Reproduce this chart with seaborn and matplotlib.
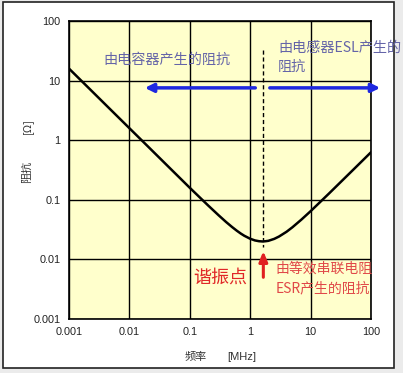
import numpy as np
import pandas as pd
import matplotlib
matplotlib.use("Agg")
import matplotlib.pyplot as plt
from matplotlib.patches import Rectangle
import seaborn as sns

# impedance curve (frequency in MHz, impedance in ohm)
freq = [0.001, 0.002, 0.005, 0.01, 0.02, 0.05, 0.1, 0.15, 0.2, 0.3, 0.4, 0.5,
        0.6, 0.7, 0.8, 1.0, 1.2, 1.4, 1.6, 1.8, 2.0, 2.5, 3.0, 4.0, 5.0, 7.0,
        10, 20, 50, 100]
impedance = [15.9, 7.96, 3.18, 1.59, 0.796, 0.318, 0.159, 0.107, 0.0808, 0.055,
             0.0423, 0.035, 0.0303, 0.0271, 0.0249, 0.0222, 0.0208, 0.0202, 0.0200,
             0.0202, 0.0205, 0.0221, 0.0242, 0.0291, 0.0346, 0.0463, 0.0644,
             0.1265, 0.3145, 0.628]

x_ticks = [0.001, 0.01, 0.1, 1, 10, 100]
x_tick_labels = ["0.001", "0.01", "0.1", "1", "10", "100"]
y_ticks = [0.001, 0.01, 0.1, 1, 10, 100]
y_tick_labels = ["0.001", "0.01", "0.1", "1", "10", "100"]

f_res = 1.65          # resonance marker position
cap_arrow = (1.35, 0.0162)
ind_arrow = (1.9, 158)
arrow_level = 7.55

df = pd.DataFrame({"freq": freq, "impedance": impedance})

sns.set_style("white")
plt.rcParams["font.family"] = ["Noto Sans CJK SC", "DejaVu Sans"]

fig = plt.figure(figsize=(4.03, 3.73), dpi=100, facecolor="#ebebeb")
fig.patches.append(Rectangle((3 / 403, 1 - 368 / 373), 391 / 403, 366 / 373,
                             transform=fig.transFigure, facecolor="white",
                             edgecolor="#222222", lw=1.2, zorder=-10))
ax = fig.add_axes([69 / 403, 1 - 319 / 373, 302 / 403, 298 / 373])
ax.set_facecolor("#ffffcc")

sns.lineplot(data=df, x="freq", y="impedance", ax=ax, color="black", lw=1.8, zorder=3)
ax.set_xscale("log")
ax.set_yscale("log")
ax.set_xlim(0.001, 100)
ax.set_ylim(0.001, 100)
ax.set_xticks(x_ticks)
ax.set_xticklabels(x_tick_labels, family="Liberation Sans", fontsize=7.8, color="#222222")
ax.set_yticks(y_ticks)
ax.set_yticklabels(y_tick_labels, family="Liberation Sans", fontsize=7.8, color="#222222")
ax.minorticks_off()
ax.tick_params(length=0, pad=6)
ax.grid(True, color="black", lw=1)
for s in ax.spines.values():
    s.set_color("black")
    s.set_linewidth(1.2)
ax.set_xlabel("")
ax.set_ylabel("")

# resonance dashed line
ax.plot([f_res, f_res], [33, 0.016], color="black", lw=1, ls=(0, (3, 2)), zorder=2)

# blue arrows
ax.annotate("", xy=(cap_arrow[1], arrow_level), xytext=(cap_arrow[0], arrow_level),
            arrowprops=dict(arrowstyle="-|>,head_length=0.5,head_width=0.25",
                            color="#1e28e0", lw=2.5), annotation_clip=False)
ax.annotate("", xy=(ind_arrow[1], arrow_level), xytext=(ind_arrow[0], arrow_level),
            arrowprops=dict(arrowstyle="-|>,head_length=0.5,head_width=0.25",
                            color="#1e28e0", lw=2.5), annotation_clip=False)

# red arrow
ax.annotate("", xy=(f_res, 0.0153), xytext=(f_res, 0.0045),
            arrowprops=dict(arrowstyle="-|>,head_length=0.6,head_width=0.25",
                            color="#e02020", lw=2.2))

blue_txt = "#6464a8"
ax.text(0.113, 0.869, "由电容器产生的阻抗", transform=ax.transAxes, fontsize=10.2,
        color=blue_txt, va="center", ha="left")
ax.text(0.692, 0.909, "由电感器ESL产生的", transform=ax.transAxes, fontsize=10.2,
        color=blue_txt, va="center", ha="left", clip_on=False)
ax.text(0.692, 0.846, "阻抗", transform=ax.transAxes, fontsize=10.2,
        color=blue_txt, va="center", ha="left")

red_txt = "#e04848"
ax.text(0.41, 0.138, "谐振点", transform=ax.transAxes, fontsize=13,
        color="#e02828", va="center", ha="left")
ax.text(0.685, 0.168, "由等效串联电阻", transform=ax.transAxes, fontsize=10,
        color=red_txt, va="center", ha="left")
ax.text(0.685, 0.104, "ESR产生的阻抗", transform=ax.transAxes, fontsize=10,
        color=red_txt, va="center", ha="left")

# axis labels
fig.text(27 / 403, 1 - 172 / 373, "阻抗", rotation=90, fontsize=8,
         color="#333333", ha="center", va="center")
fig.text(27 / 403, 1 - 126 / 373, "[Ω]", rotation=90, fontsize=8,
         color="#333333", ha="center", va="center")
fig.text(196 / 403, 1 - 357 / 373, "频率", fontsize=8,
         color="#333333", ha="center", va="center")
fig.text(242 / 403, 1 - 357 / 373, "[MHz]", fontsize=8, family="Liberation Sans",
         color="#333333", ha="center", va="center")

fig.savefig("out.png", dpi=100, facecolor=fig.get_facecolor())
